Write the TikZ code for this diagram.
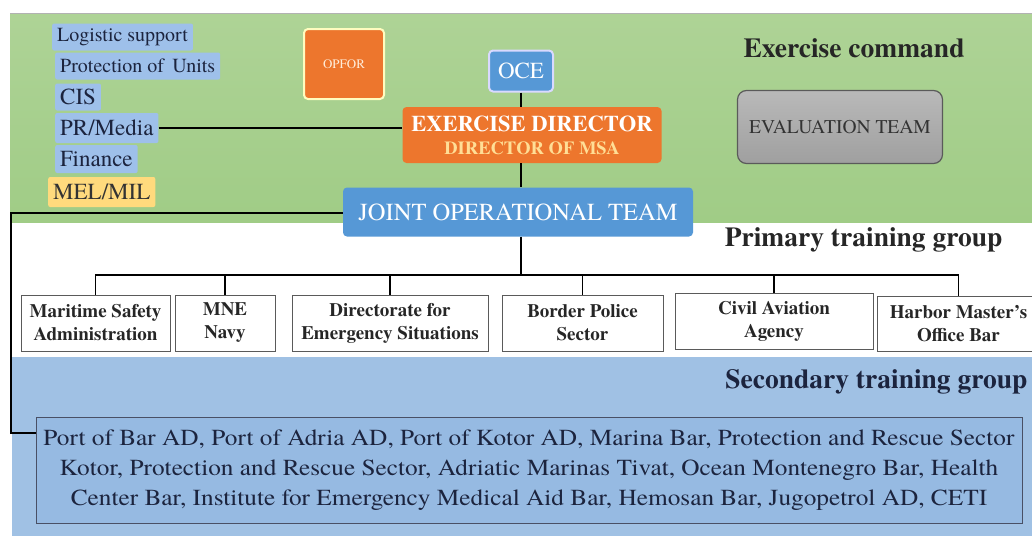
\documentclass[tikz,border=0pt]{standalone}
\usepackage{fontspec}
\setmainfont{texgyretermes}[Extension = .otf, UprightFont = *-regular, BoldFont = *-bold,
	ItalicFont = *-italic, BoldItalicFont = *-bolditalic]
\newfontfamily\listfont{texgyretermes}[Extension = .otf, UprightFont = *-regular, FakeStretch = 1.1]

\definecolor{cmdgreen}{RGB}{174,211,150}
\definecolor{cmdgreenlow}{RGB}{160,204,134}
\definecolor{secblue}{RGB}{160,193,228}
\definecolor{staffblue}{RGB}{158,192,234}
\definecolor{melyellow}{RGB}{255,218,125}
\definecolor{mainorange}{RGB}{237,118,45}
\definecolor{mainblue}{RGB}{86,152,214}
\definecolor{inkblue}{RGB}{28,36,62}
\definecolor{boxblue}{RGB}{150,186,226}
\definecolor{framegray}{RGB}{90,90,90}
\definecolor{peach}{RGB}{255,222,150}

\tikzset{
	staff/.style = {fill = staffblue, rounded corners = 2pt, anchor = west, text = inkblue,
		inner xsep = 5pt, inner ysep = 1pt},
	head/.style = {rounded corners = 4pt, text = white, align = center, inner sep = 0pt},
	unit/.style = {draw = framegray, fill = white, align = center, inner sep = 0pt,
		font = \bfseries\fontsize{19}{23}\selectfont, text = black!85},
	band/.style = {font = \bfseries\fontsize{27.5}{30}\selectfont, text = black!85},
	link/.style = {line width = 2pt},
	bus/.style = {line width = 1.3pt}
}

\begin{document}
\begin{tikzpicture}[x = 1pt, y = -1pt]

	\useasboundingbox (0, 0) rectangle (1032, 536);

	% bands
	\shade[top color = cmdgreen, bottom color = cmdgreenlow] (10, 13) rectangle (1032, 222);
	\draw[gray!60, line width = 1pt] (10, 13) -- (1032, 13);
	\fill[secblue] (12, 357) rectangle (1032, 536);

	\node[band, anchor = west] (cmdlabel) at (740, 48) {Exercise command};
	\node[band, anchor = east] (primlabel) at (1006, 240) {Primary training group};
	\node[band, anchor = east, text = inkblue] (seclabel) at (1031, 382) {Secondary training group};

	% staff cells
	\node[staff, minimum height = 27, font = \fontsize{20}{22}\selectfont] (log) at (52, 37) {Logistic support};
	\node[staff, minimum height = 27, font = \fontsize{20}{22}\selectfont] (prot) at (55, 66) {Protection of\, Units};
	\node[staff, minimum height = 27, font = \fontsize{23}{25}\selectfont] (cis) at (55, 97) {CIS};
	\node[staff, minimum height = 30, font = \fontsize{23}{25}\selectfont] (pr) at (55, 128) {PR/Media};
	\node[staff, minimum height = 28, font = \fontsize{23}{25}\selectfont] (fin) at (55, 159) {Finance};
	\node[staff, minimum height = 30, fill = melyellow, text = black!80, font = \fontsize{23}{25}\selectfont]
		(mel) at (48, 192) {MEL/MIL};

	% command
	\node[head, fill = mainorange, draw = yellow!25, line width = 2pt, minimum width = 80, minimum height = 70,
		font = \fontsize{13}{15}\selectfont, text = orange!15] (opfor) at (344, 64) {OPFOR};
	\node[head, fill = mainblue, draw = white!85!blue, line width = 2pt, minimum width = 64, minimum height = 41,
		font = \fontsize{23}{25}\selectfont] (oce) at (521, 71) {OCE};
	\node[head, fill = mainorange, minimum width = 259, minimum height = 56,
		font = \bfseries\fontsize{22.5}{23}\selectfont] (ed) at (532, 135)
		{EXERCISE DIRECTOR\\{\color{peach}\fontsize{18.5}{19}\selectfont DIRECTOR OF MSA}};
	\node[head, fill = mainblue, minimum width = 350, minimum height = 49,
		font = \fontsize{24.5}{26}\selectfont] (jot) at (518, 212) {JOINT OPERATIONAL TEAM};
	\node[head, draw = framegray, line width = 1.2pt, top color = gray!55, bottom color = gray!75,
		minimum width = 205, minimum height = 73, text = black!80, font = \fontsize{19.5}{21}\selectfont,
		rounded corners = 9pt] (eval) at (840, 127) {EVALUATION TEAM};

	% primary training group
	\node[unit, minimum width = 149, minimum height = 56] (msa) at (95.5, 323) {Maritime Safety\\Administration};
	\node[unit, minimum width = 100, minimum height = 56] (mne) at (225, 323) {MNE\\Navy};
	\node[unit, minimum width = 196, minimum height = 56] (des) at (390, 323) {Directorate for\\Emergency Situations};
	\node[unit, minimum width = 161, minimum height = 56] (bps) at (582.5, 323) {Border Police\\Sector};
	\node[unit, minimum width = 198, minimum height = 56] (caa) at (774, 321) {Civil Aviation\\Agency};
	\node[unit, minimum width = 163, minimum height = 55] (hmo) at (958.5, 323.5) {Harbor Master's\\Office Bar};

	% secondary training group
	\node[draw = inkblue!80, line width = 1pt, fill = boxblue, text = inkblue, align = center,
		minimum width = 986, minimum height = 106, font = \listfont\fontsize{23}{30}\selectfont] (sec) at (529, 470)
		{Port of Bar AD, Port of Adria AD, Port of Kotor AD, Marina Bar, Protection and Rescue Sector\\
		 Kotor, Protection and Rescue Sector, Adriatic Marinas Tivat, Ocean Montenegro Bar, Health\\
		 Center Bar, Institute for Emergency Medical Aid Bar, Hemosan Bar, Jugopetrol AD, CETI};

	% connectors
	\coordinate (bus) at (521, 275);
	\coordinate (lbend) at (11, 213);
	\coordinate (lfoot) at (11, 433);

	\draw[link] (pr.east) -- (pr.east -| ed.west);
	\draw[link] (oce.south) -- (oce.south |- ed.north);
	\draw[link] (oce.south |- ed.south) -- (oce.south |- jot.north);
	\draw[link] (oce.south |- jot.south) -- (bus);
	\draw[link] (jot.west |- lbend) -- (lbend) -- (lfoot) -- (sec.west |- lfoot);
	\foreach \u in {msa, mne, des, bps, caa, hmo}
		\draw[bus] (bus) -| (\u.north);

\end{tikzpicture}
\end{document}
